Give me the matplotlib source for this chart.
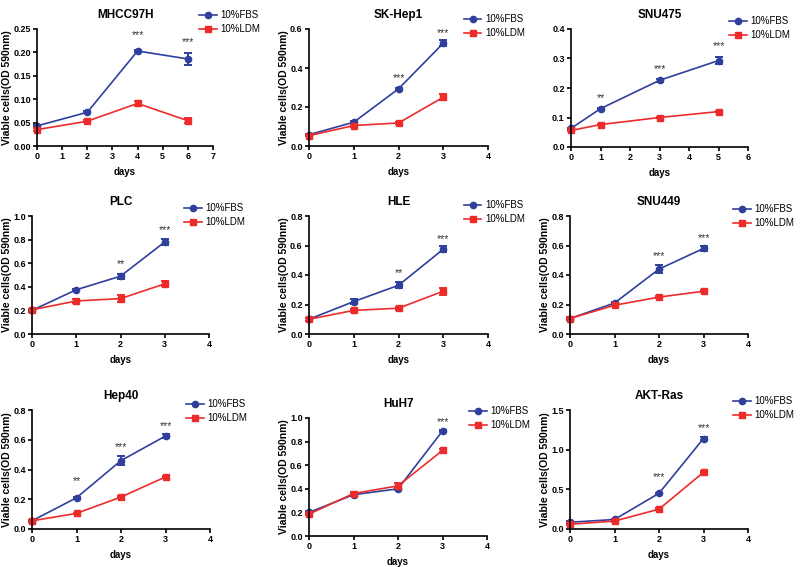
import matplotlib.pyplot as plt
import numpy as np
from matplotlib.lines import Line2D
from matplotlib.ticker import FormatStrFormatter, MultipleLocator

plt.rcParams['font.family'] = ['Liberation Sans', 'DejaVu Sans']

# panel data
titles = ['MHCC97H', 'SK-Hep1', 'SNU475', 'PLC', 'HLE', 'SNU449', 'Hep40', 'HuH7', 'AKT-Ras']
days = [[0, 2, 4, 6], [0, 1, 2, 3], [0, 1, 3, 5],
        [0, 1, 2, 3], [0, 1, 2, 3], [0, 1, 2, 3],
        [0, 1, 2, 3], [0, 1, 2, 3], [0, 1, 2, 3]]
fbs = [[0.043, 0.072, 0.203, 0.186],
       [0.058, 0.122, 0.293, 0.527],
       [0.063, 0.130, 0.226, 0.293],
       [0.200, 0.375, 0.490, 0.780],
       [0.100, 0.220, 0.330, 0.575],
       [0.105, 0.210, 0.440, 0.580],
       [0.055, 0.210, 0.460, 0.625],
       [0.200, 0.350, 0.400, 0.890],
       [0.085, 0.120, 0.450, 1.140]]
fbs_err = [[0.002, 0.002, 0.002, 0.012],
           [0.003, 0.005, 0.005, 0.015],
           [0.002, 0.003, 0.006, 0.012],
           [0.010, 0.010, 0.020, 0.025],
           [0.010, 0.015, 0.020, 0.020],
           [0.010, 0.010, 0.025, 0.020],
           [0.005, 0.005, 0.030, 0.015],
           [0.010, 0.010, 0.010, 0.010],
           [0.010, 0.010, 0.010, 0.015]]
ldm = [[0.035, 0.053, 0.091, 0.054],
       [0.053, 0.105, 0.118, 0.250],
       [0.056, 0.076, 0.100, 0.120],
       [0.205, 0.280, 0.300, 0.425],
       [0.100, 0.160, 0.175, 0.290],
       [0.105, 0.195, 0.250, 0.290],
       [0.055, 0.105, 0.215, 0.350],
       [0.185, 0.360, 0.425, 0.725],
       [0.060, 0.100, 0.250, 0.715]]
ldm_err = [[0.003, 0.002, 0.005, 0.005],
           [0.003, 0.005, 0.005, 0.015],
           [0.003, 0.003, 0.003, 0.003],
           [0.010, 0.020, 0.030, 0.020],
           [0.010, 0.010, 0.010, 0.025],
           [0.005, 0.005, 0.005, 0.005],
           [0.005, 0.005, 0.005, 0.005],
           [0.010, 0.010, 0.020, 0.010],
           [0.010, 0.010, 0.010, 0.015]]
# significance marks: (day, height, label)
stars = [[(4, 0.241, '***'), (6, 0.226, '***')],
         [(2, 0.360, '***'), (3, 0.588, '***')],
         [(1, 0.173, '**'), (3, 0.271, '***'), (5, 0.348, '***')],
         [(2, 0.61, '**'), (3, 0.90, '***')],
         [(2, 0.43, '**'), (3, 0.66, '***')],
         [(2, 0.54, '***'), (3, 0.665, '***')],
         [(1, 0.333, '**'), (2, 0.565, '***'), (3, 0.707, '***')],
         [(3, 0.986, '***')],
         [(2, 0.68, '***'), (3, 1.30, '***')]]
ymax = [0.25, 0.6, 0.4, 1.0, 0.8, 0.8, 0.8, 1.0, 1.5]
ystep = [0.05, 0.2, 0.1, 0.2, 0.2, 0.2, 0.2, 0.2, 0.5]
yfmt = ['%.2f'] + ['%.1f'] * 8
xmax = [7, 4, 6, 4, 4, 4, 4, 4, 4]
ylabels = ['Viable cells(OD 590nm)'] * 9
ylabels[2] = ''

BLUE = '#2f3f9c'
RED = '#ee2b2b'
W, H = 800, 567

# axes boxes in pixels: left, top, right, bottom
boxes = [(37, 29, 213, 146), (309, 29, 488, 146), (571, 29, 748, 147),
         (32, 216, 209, 334), (309, 216, 488, 334), (570, 216, 748, 334),
         (32, 410, 210, 529), (309, 418, 487, 536), (570, 410, 748, 529)]
# legend upper-left corner in pixels
leg_pos = [(199, 10), (464, 14), (729, 16),
           (184, 203), (464, 200), (733, 204),
           (186, 399), (469, 406), (733, 396)]

fig = plt.figure(figsize=(8, 5.67), dpi=100)

for i in range(9):
    l, t, r, b = boxes[i]
    ax = fig.add_axes([l / W, 1 - b / H, (r - l) / W, (b - t) / H])
    handles = []
    for vals, errs, col, mk, ms, lab in [(fbs[i], fbs_err[i], BLUE, 'o', 4.5, '10%FBS'),
                                         (ldm[i], ldm_err[i], RED, 's', 5, '10%LDM')]:
        cont = ax.errorbar(days[i], vals, yerr=errs, color=col, marker=mk, ms=ms,
                           lw=1.2, elinewidth=1.4, capsize=3, capthick=1.4)
        for art in cont.get_children():
            art.set_clip_on(False)
        handles.append(Line2D([], [], color=col, marker=mk, ms=ms, lw=1.2, label=lab))
    for d, y, s in stars[i]:
        ax.annotate(s, (d, y), xytext=(0, -1.5), textcoords='offset points',
                    ha='center', va='center', fontsize=7.5, color='#333333')
    ax.set_xlim(0, xmax[i])
    ax.set_ylim(0, ymax[i])
    ax.xaxis.set_major_locator(MultipleLocator(1))
    ax.yaxis.set_major_locator(MultipleLocator(ystep[i]))
    ax.yaxis.set_major_formatter(FormatStrFormatter(yfmt[i]))
    for sp in ['top', 'right']:
        ax.spines[sp].set_visible(False)
    for sp in ['left', 'bottom']:
        ax.spines[sp].set_linewidth(1.2)
    ax.tick_params(direction='out', length=3, width=1.2, labelsize=6.5, pad=1.5)
    for lbl in ax.get_xticklabels() + ax.get_yticklabels():
        lbl.set_fontweight('bold')
    ax.set_title(titles[i], fontsize=8.5, fontweight='bold', pad=8)
    ax.set_xlabel('days', fontsize=7, fontweight='bold', labelpad=4)
    ax.set_ylabel(ylabels[i], fontsize=7.5, fontweight='bold', labelpad=1)
    lx, ly = leg_pos[i]
    ax.legend(handles=handles, loc='upper left', bbox_to_anchor=(lx / W, 1 - ly / H),
              bbox_transform=fig.transFigure, frameon=False, fontsize=7,
              borderpad=0, borderaxespad=0, handlelength=1.8, handletextpad=0.35,
              labelspacing=0.45)

fig.savefig('out.png', dpi=100)
